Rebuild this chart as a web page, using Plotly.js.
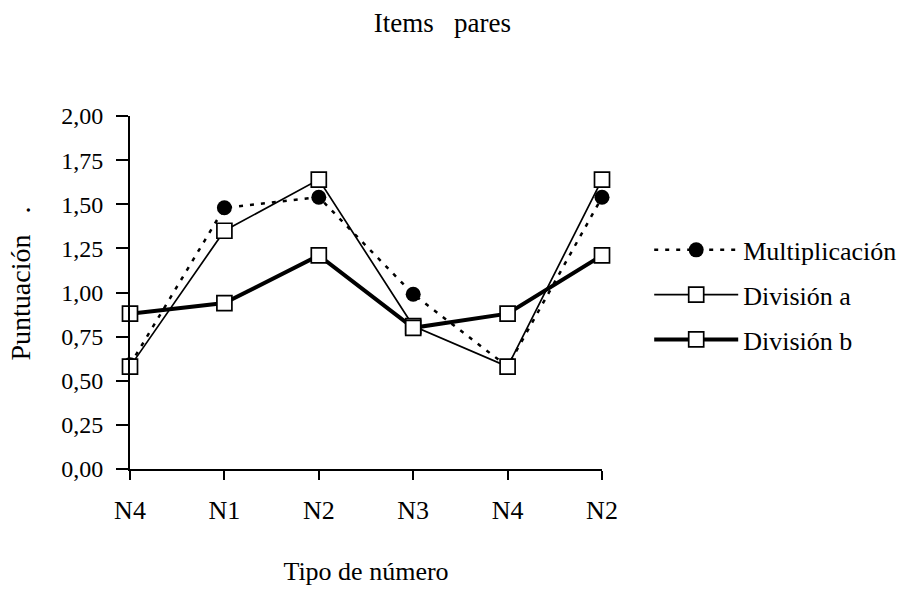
<!DOCTYPE html>
<html>
<head>
<meta charset="utf-8">
<script src="https://cdn.plot.ly/plotly-3.0.1.min.js"></script>
<style>body{margin:0;background:#fff}#chart{width:899px;height:589px}</style>
</head>
<body>
<div id="chart"></div>
<script>
const categories = ["N4", "N1", "N2", "N3", "N4", "N2"];
const multiplicacion = [0.59, 1.48, 1.54, 0.99, 0.58, 1.54];
const divisionA = [0.58, 1.35, 1.64, 0.81, 0.58, 1.64];
const divisionB = [0.88, 0.94, 1.21, 0.80, 0.88, 1.21];
const yTicks = [0, 0.25, 0.5, 0.75, 1, 1.25, 1.5, 1.75, 2];

const xIdx = categories.map((c, i) => i);
const font = {family: "Liberation Serif, DejaVu Serif, serif", color: "#000"};
const f = s => Object.assign({size: s}, font);

const traces = [
  {x: xIdx, y: multiplicacion, name: "Multiplicación", mode: "lines+markers", cliponaxis: false,
   legendgroup: "g1",
   line: {color: "#000", width: 2.5, dash: "4px,7px"},
   marker: {symbol: "circle", size: 15, color: "#000"}},
  {x: xIdx, y: divisionA, name: "División a", mode: "lines+markers", cliponaxis: false,
   legendgroup: "g2",
   line: {color: "#000", width: 1.7},
   marker: {symbol: "square", size: 15, color: "#fff", line: {color: "#000", width: 1.7}}},
  {x: xIdx, y: divisionB, name: "División b", mode: "lines+markers", cliponaxis: false,
   legendgroup: "g3",
   line: {color: "#000", width: 4},
   marker: {symbol: "square", size: 15, color: "#fff", line: {color: "#000", width: 1.7}}}
];

const layout = {
  width: 899, height: 589,
  margin: {l: 130, r: 297, t: 116, b: 120, autoexpand: false},
  paper_bgcolor: "#fff", plot_bgcolor: "#fff",
  separators: ",.",
  font: f(24),
  title: {text: "Items   pares", x: 0.492, xanchor: "center", y: 0.962, yanchor: "middle",
          font: f(27)},
  xaxis: {
    range: [0, 5], tickmode: "array", tickvals: xIdx, ticktext: categories,
    showgrid: false, zeroline: false, showline: true, linecolor: "#000", linewidth: 2,
    ticks: "outside", ticklen: 9, tickwidth: 2, tickcolor: "#000",
    ticklabelstandoff: 8, automargin: false,
    tickfont: f(26),
    title: {text: "Tipo de número", font: f(26), standoff: 38}
  },
  yaxis: {
    range: [0, 2], tickmode: "array", tickvals: yTicks, tickformat: ".2f",
    showgrid: false, zeroline: false, showline: true, linecolor: "#000", linewidth: 2,
    ticks: "outside", ticklen: 12, tickwidth: 2, tickcolor: "#000",
    ticklabelstandoff: 8, automargin: false,
    tickfont: f(24)
  },
  annotations: [
    {text: "Puntuación   .", xref: "paper", yref: "paper", x: -0.233, y: 0.5255,
     xanchor: "center", yanchor: "middle", textangle: -90, showarrow: false,
     font: f(28)}
  ],
  showlegend: true,
  legend: {x: 1.1, y: 0.493, xanchor: "left", yanchor: "middle", traceorder: "grouped",
           font: f(26), itemwidth: 84, tracegroupgap: 8,
           bgcolor: "rgba(0,0,0,0)"}
};

Plotly.newPlot("chart", traces, layout, {displayModeBar: false});
</script>
</body>
</html>
